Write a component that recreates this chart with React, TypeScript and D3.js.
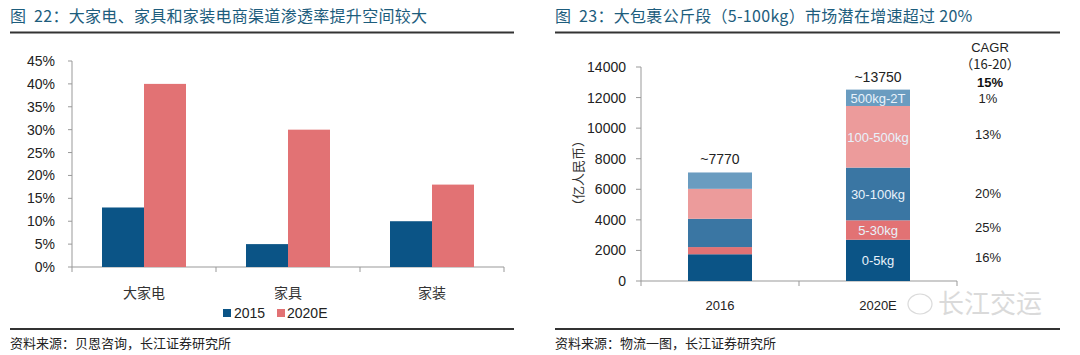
import React from "react";
import * as d3 from "d3";

const leftCategories = ["大家电", "家具", "家装"];
const leftSeries = ["2015", "2020E"];
const values2015 = [0.13, 0.05, 0.10];
const values2020E = [0.40, 0.30, 0.18];
const leftTicks = [0, 0.05, 0.1, 0.15, 0.2, 0.25, 0.3, 0.35, 0.4, 0.45];

const rightCategories = ["2016", "2020E"];
const segments = ["0-5kg", "5-30kg", "30-100kg", "100-500kg", "500kg-2T"];
const seg2016 = [1750, 470, 1850, 1960, 1070];
const seg2020E = [2700, 1270, 3450, 4030, 1070];
const totalLabels = ["~7770", "~13750"];
const cagr = ["16%", "25%", "20%", "13%", "1%"];
const rightTicks = [0, 2000, 4000, 6000, 8000, 10000, 12000, 14000];

const BLUE = "#0b5486";
const RED = "#e27274";
const segColors = ["#0b5486", "#e27274", "#3a76a3", "#ec9b9b", "#6a9cc0"];
const FONT = "'Liberation Sans', Arial, 'Noto Sans CJK SC', sans-serif";
const CJK = "'Noto Sans CJK SC', 'Liberation Sans', sans-serif";
const TITLE_COLOR = "#1d5d7d";

export default function App() {
  const lx = d3.scaleBand().domain(leftCategories).range([72, 504]).paddingInner(0).paddingOuter(0);
  const lxi = d3.scaleBand().domain(leftSeries).range([0, 84]);
  const ly = d3.scaleLinear().domain([0, 0.45]).range([267, 61]);
  const pct = d3.format(".0%");

  const rx = d3.scaleBand().domain(rightCategories).range([641, 957]);
  const ry = d3.scaleLinear().domain([0, 14000]).range([281, 67]);
  const rows = rightCategories.map((c, i) => {
    const o: any = { cat: c };
    segments.forEach((s, j) => (o[s] = i === 0 ? seg2016[j] : seg2020E[j]));
    return o;
  });
  const stacked = d3.stack().keys(segments)(rows as any);
  const barW = 64;
  const cagrYs = [257, 227, 193, 134, 98];

  return (
    <svg width={1080} height={355} style={{ display: "block", position: "absolute", left: 0, top: 0, background: "#fff" }}>
      <rect width={1080} height={355} fill="#fff" />
      {/* Left panel */}
      <text x={10} y={22} fontFamily={CJK} fontSize={16} fill={TITLE_COLOR} style={{ whiteSpace: "pre" }} letterSpacing={0.3}>{"图  22：大家电、家具和家装电商渠道渗透率提升空间较大"}</text>
      <line x1={10} x2={514} y1={32.5} y2={32.5} stroke="#333" strokeWidth={2} />
      {leftTicks.map((t) => (
        <g key={t}>
          <line x1={68} x2={72} y1={ly(t)} y2={ly(t)} stroke="#999" />
          <text x={55} y={ly(t) + 5} textAnchor="end" fontFamily={FONT} fontSize={14} fill="#222">{pct(t)}</text>
        </g>
      ))}
      <line x1={72} x2={72} y1={ly(0.45)} y2={ly(0)} stroke="#999" />
      <line x1={72} x2={504} y1={ly(0)} y2={ly(0)} stroke="#999" />
      {[72, 216, 360, 504].map((x) => (
        <line key={x} x1={x} x2={x} y1={ly(0)} y2={ly(0) + 5} stroke="#999" />
      ))}
      {leftCategories.map((c, i) => {
        const gx = (lx(c) as number) + lx.bandwidth() / 2 - 42;
        return (
          <g key={c}>
            <rect x={gx + (lxi("2015") as number)} y={ly(values2015[i])} width={lxi.bandwidth()} height={ly(0) - ly(values2015[i])} fill={BLUE} />
            <rect x={gx + (lxi("2020E") as number)} y={ly(values2020E[i])} width={lxi.bandwidth()} height={ly(0) - ly(values2020E[i])} fill={RED} />
            <text x={(lx(c) as number) + lx.bandwidth() / 2} y={298} textAnchor="middle" fontFamily={CJK} fontSize={14} fill="#333">{c}</text>
          </g>
        );
      })}
      <rect x={223} y={309} width={8} height={8} fill={BLUE} />
      <text x={234} y={318} fontFamily={FONT} fontSize={14} fill="#222">2015</text>
      <rect x={277} y={309} width={8} height={8} fill={RED} />
      <text x={287} y={318} fontFamily={FONT} fontSize={14} fill="#222">2020E</text>
      <line x1={10} x2={514} y1={329} y2={329} stroke="#333" strokeWidth={2} />
      <text x={10} y={348} fontFamily={CJK} fontSize={13} fill="#222">资料来源：贝恩咨询，长江证券研究所</text>

      {/* Right panel */}
      <text x={555} y={22} fontFamily={CJK} fontSize={16} fill={TITLE_COLOR} style={{ whiteSpace: "pre" }} letterSpacing={0.3}>{"图  23：大包裹公斤段（5-100kg）市场潜在增速超过 20%"}</text>
      <line x1={555} x2={1060} y1={32.5} y2={32.5} stroke="#333" strokeWidth={2} />
      {rightTicks.map((t) => (
        <g key={t}>
          <line x1={636} x2={641} y1={ry(t)} y2={ry(t)} stroke="#999" />
          <text x={626} y={ry(t) + 5} textAnchor="end" fontFamily={FONT} fontSize={14} fill="#222">{t}</text>
        </g>
      ))}
      <line x1={641} x2={641} y1={ry(14000)} y2={ry(0)} stroke="#999" />
      <line x1={641} x2={957} y1={ry(0)} y2={ry(0)} stroke="#999" />
      {[641, 799, 957].map((x) => (
        <line key={x} x1={x} x2={x} y1={ry(0)} y2={ry(0) + 5} stroke="#999" />
      ))}
      <text transform={`translate(583,173) rotate(-90)`} textAnchor="middle" fontFamily={CJK} fontSize={13} fill="#333">（亿人民币）</text>
      {stacked.map((layer, j) =>
        layer.map((d, i) => {
          const cx = (rx(rightCategories[i]) as number) + rx.bandwidth() / 2;
          return (
            <rect key={`${j}-${i}`} x={cx - barW / 2} y={ry(d[1])} width={barW} height={ry(d[0]) - ry(d[1])} fill={segColors[j]} />
          );
        })
      )}
      {stacked.map((layer, j) => {
        const d = layer[1];
        const cx = (rx("2020E") as number) + rx.bandwidth() / 2;
        return (
          <text key={segments[j]} x={cx} y={(ry(d[0]) + ry(d[1])) / 2 + 5} textAnchor="middle" fontFamily={FONT} fontSize={13} fill="#e8f2fb">{segments[j]}</text>
        );
      })}
      {rightCategories.map((c, i) => {
        const cx = (rx(c) as number) + rx.bandwidth() / 2;
        const top = stacked[stacked.length - 1][i][1];
        return (
          <g key={c}>
            <text x={cx} y={ry(top) - 8} textAnchor="middle" fontFamily={FONT} fontSize={14} fill="#222">{totalLabels[i]}</text>
            <text x={cx} y={310} textAnchor="middle" fontFamily={FONT} fontSize={13} fill="#222">{c}</text>
          </g>
        );
      })}
      <text x={990} y={52} textAnchor="middle" fontFamily={FONT} fontSize={13} fill="#222">CAGR</text>
      <text x={990} y={69} textAnchor="middle" fontFamily={CJK} fontSize={13} fill="#222">（16-20）</text>
      <text x={990} y={87} textAnchor="middle" fontFamily={FONT} fontSize={13} fontWeight="bold" fill="#111">15%</text>
      {cagr.map((v, j) => (
        <text key={j} x={988} y={cagrYs[j] + 5} textAnchor="middle" fontFamily={FONT} fontSize={13} fill="#222">{v}</text>
      ))}
      <g opacity={0.3}>
        <ellipse cx={920} cy={304} rx={12} ry={10} fill="none" stroke="#888" strokeWidth={1.2} />
        <text x={938} y={313} fontFamily={CJK} fontSize={26} fill="#888">长江交运</text>
      </g>
      <line x1={555} x2={1060} y1={329} y2={329} stroke="#333" strokeWidth={2} />
      <text x={555} y={348} fontFamily={CJK} fontSize={13} fill="#222">资料来源：物流一图，长江证券研究所</text>
    </svg>
  );
}
